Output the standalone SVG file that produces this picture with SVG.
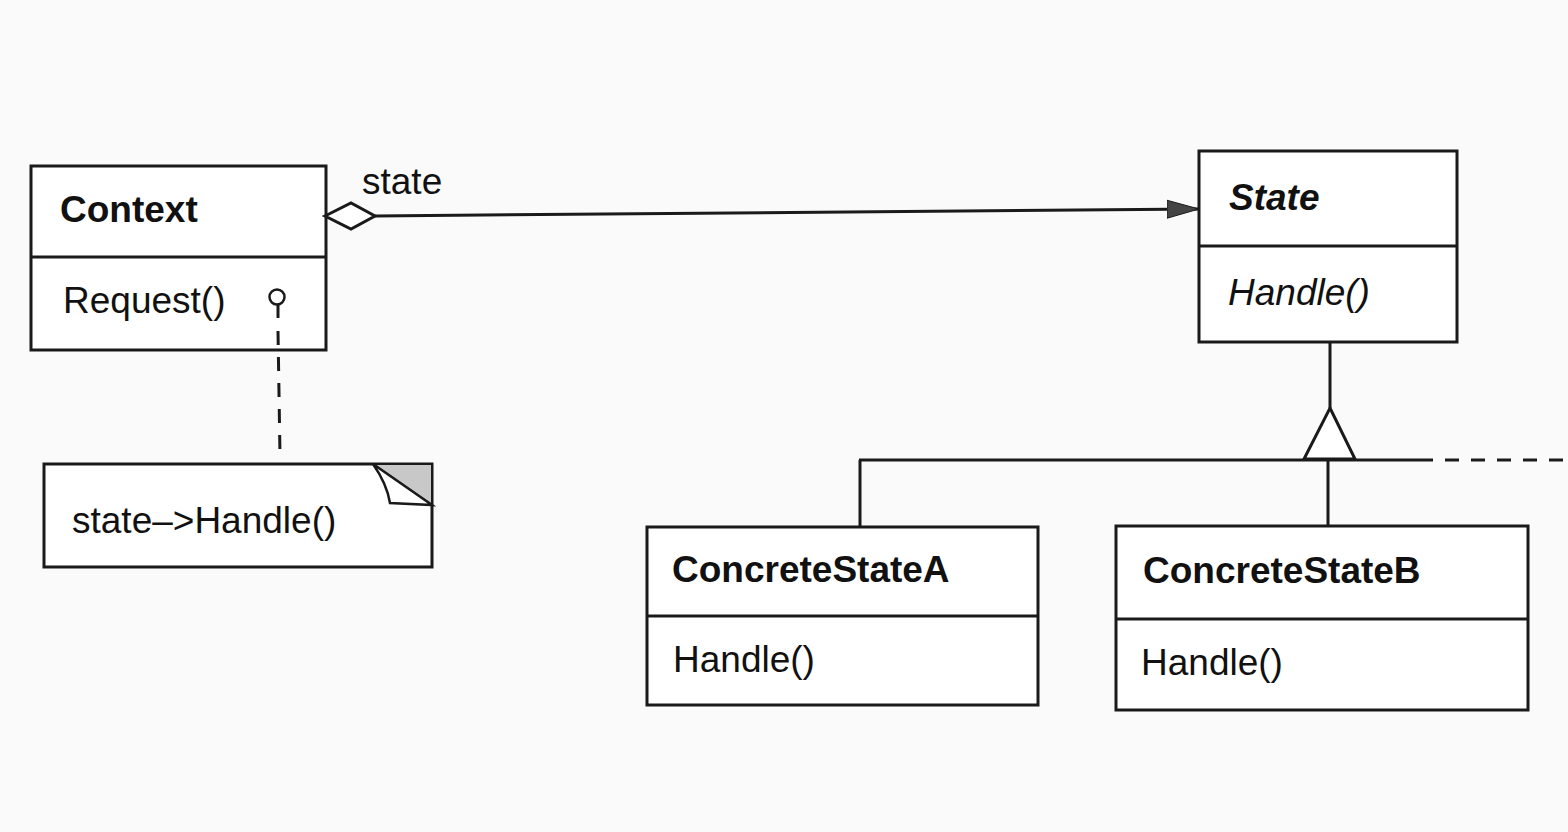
<svg xmlns="http://www.w3.org/2000/svg" width="1568" height="832" viewBox="0 0 1568 832">
<style>
.box{fill:#fff;stroke:#1a1a1a;stroke-width:3}
.ln{fill:none;stroke:#1a1a1a;stroke-width:3}
.dash{fill:none;stroke:#1a1a1a;stroke-width:3;stroke-dasharray:14 12}
text{font-family:"Liberation Sans",Arial,sans-serif;fill:#111;font-size:37px}
.b{font-weight:bold}
.i{font-style:italic}
</style>
<defs>
<marker id="arrow" viewBox="0 0 32 20" refX="32" refY="10" markerWidth="32" markerHeight="20" markerUnits="userSpaceOnUse" orient="auto">
<path d="M0,1 L32,10 L0,19 Z" fill="#444" stroke="#1a1a1a" stroke-width="1"/>
</marker>
</defs>
<rect x="0" y="0" width="1568" height="832" fill="#fbfafa"/>
<g id="Context">
<rect class="box" x="31" y="166" width="295" height="184"/>
<line class="ln" x1="31" y1="257" x2="326" y2="257"/>
<text class="b" x="60" y="222">Context</text>
<text x="63" y="313">Request()</text>
<text x="362" y="194">state</text>
</g>
<g id="Note">
<path class="box" d="M44,464 L432,464 L432,567 L44,567 Z"/>
<path d="M373,464 L432,464 L432,505 Z" fill="#c8c8c8" stroke="#1a1a1a" stroke-width="2"/>
<path d="M373,464 L432,505 L390,503 Q387,484 373,464 Z" fill="#fff" stroke="#1a1a1a" stroke-width="2.5"/>
<text x="72" y="533">state–&gt;Handle()</text>
</g>
<g id="State">
<rect class="box" x="1199" y="151" width="258" height="191"/>
<line class="ln" x1="1199" y1="246" x2="1457" y2="246"/>
<text class="b i" x="1229" y="210">State</text>
<text class="i" x="1228" y="305">Handle()</text>
</g>
<g id="ConcreteStateA">
<rect class="box" x="647" y="527" width="391" height="178"/>
<line class="ln" x1="647" y1="616" x2="1038" y2="616"/>
<text class="b" x="672" y="582">ConcreteStateA</text>
<text x="673" y="672">Handle()</text>
</g>
<g id="ConcreteStateB">
<rect class="box" x="1116" y="526" width="412" height="184"/>
<line class="ln" x1="1116" y1="619" x2="1528" y2="619"/>
<text class="b" x="1143" y="583">ConcreteStateB</text>
<text x="1141" y="675">Handle()</text>
</g>
<g id="connectors">
<path class="ln" d="M375,216 L1199,209" marker-end="url(#arrow)"/>
<path class="box" d="M325,216 L351,203 L375,216 L351,229 Z"/>
<line class="ln" x1="278" y1="305" x2="278" y2="318"/>
<line class="dash" x1="278" y1="331" x2="280" y2="455"/>
<circle cx="277" cy="297" r="7.5" fill="#fff" stroke="#1a1a1a" stroke-width="2.5"/>
<line class="ln" x1="1330" y1="342" x2="1330" y2="408"/>
<path class="box" d="M1330,408 L1355,459 L1304,459 Z"/>
<line class="ln" x1="859" y1="460" x2="1433" y2="460"/>
<line class="dash" x1="1445" y1="460" x2="1568" y2="460"/>
<line class="ln" x1="860" y1="460" x2="860" y2="527"/>
<line class="ln" x1="1328" y1="460" x2="1328" y2="526"/>
</g>
</svg>
